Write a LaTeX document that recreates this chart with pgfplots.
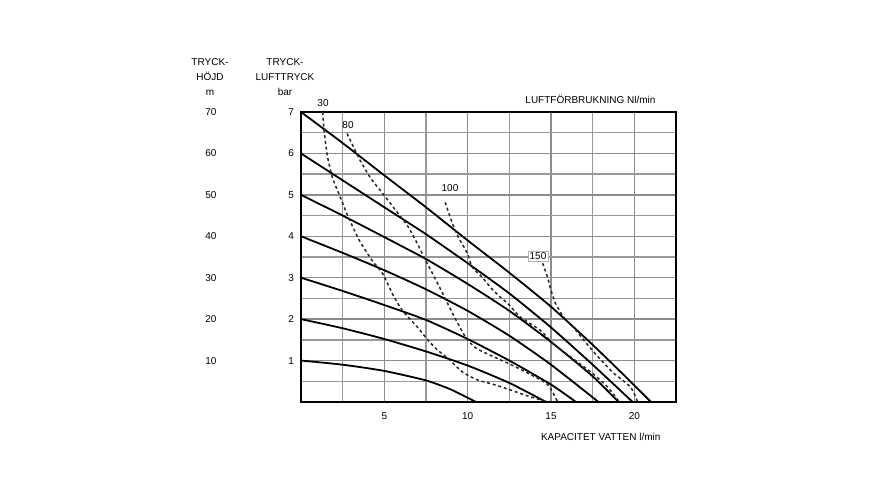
\documentclass[border=0pt]{standalone}
\usepackage{pgfplots}
\pgfplotsset{compat=1.18}
\usepackage{fontspec}
\setmainfont{Liberation Sans}
\begin{document}
\fontsize{10}{12}\selectfont
\begin{tikzpicture}[x=1pt,y=1pt]
\useasboundingbox (0,0) rectangle (870,500);
\begin{axis}[at={(301pt,98pt)}, anchor=south west, scale only axis,
  width=375pt, height=290pt, xmin=0, xmax=22.5, ymin=0, ymax=7,
  xtick={5,10,15,20}, minor xtick={2.5,7.5,12.5,17.5},
  ytick={1,...,7}, minor ytick={0.5,1.5,...,6.5},
  grid=both,
  major grid style={draw=black!45, line width=1.3pt},
  minor grid style={draw=black!40, line width=1.3pt},
  major tick length=0, minor tick length=0,
  axis line style={line width=1.8pt, black},
  tick label style={font=\fontsize{10}{12}\selectfont},
  yticklabel style={xshift=-3.5pt}, xticklabel style={yshift=-7pt},
  clip=false, /pgf/number format/assume math mode=true]
% pressure curves (bar)
\pgfplotsset{pc/.style={black, line width=1.8pt, smooth, tension=0.4},
  ac/.style={black!85, line width=1.5pt, dash pattern=on 3pt off 2.8pt, smooth, tension=0.4}}
\addplot[pc] coordinates {(0,1) (2.5,0.9) (5,0.75) (7.5,0.52) (9,0.3) (10.5,0)};
\addplot[pc] coordinates {(0,2) (2.5,1.78) (5,1.52) (7.5,1.22) (10,0.88) (12.5,0.46) (14.7,0)};
\addplot[pc] coordinates {(0,3) (2.5,2.68) (5,2.34) (7.5,1.98) (10,1.52) (12.5,1.0) (15,0.42) (16.5,0)};
\addplot[pc] coordinates {(0,4) (2.5,3.6) (5,3.18) (7.5,2.72) (10,2.2) (12.5,1.6) (15,0.9) (17.85,0)};
\addplot[pc] coordinates {(0,5) (2.5,4.5) (5,3.98) (7.5,3.45) (10,2.85) (12.5,2.2) (15,1.45) (17.5,0.62) (19.05,0)};
\addplot[pc] coordinates {(0,6) (2.5,5.35) (5,4.7) (7.5,4.05) (10,3.35) (12.5,2.62) (15,1.8) (17.5,0.9) (19.9,0)};
\addplot[pc] coordinates {(0,7) (2.5,6.25) (5,5.47) (7.5,4.7) (10,3.9) (12.5,3.12) (15,2.3) (17.5,1.38) (19.5,0.6) (21,0)};
% air consumption curves (Nl/min)
\addplot[ac] coordinates {(1.3,7.0) (1.4,6.5) (1.6,5.9) (1.9,5.4) (2.3,5.0) (2.8,4.5) (3.5,3.9) (4.3,3.4) (4.9,3.1) (5.5,2.6) (6.1,2.2) (7.0,1.8) (7.6,1.5) (8.2,1.25) (8.8,1.06) (9.7,0.72) (10.6,0.53) (11.5,0.43) (12.5,0.3) (13.5,0.16) (14.4,0.05) (14.9,0)};
\addplot[ac] coordinates {(2.76,6.48) (3.05,6.24) (3.55,5.83) (4.15,5.42) (4.75,5.11) (5.35,4.8) (5.83,4.55) (6.4,4.25) (6.97,3.83) (7.5,3.4) (8.1,2.94) (8.7,2.46) (9.3,1.98) (9.9,1.55) (10.5,1.3) (11.4,1.12) (12.4,0.94) (13.6,0.7) (14.8,0.42) (15.4,0)};
\addplot[ac] coordinates {(8.65,4.82) (8.95,4.46) (9.25,4.14) (9.55,3.9) (9.98,3.59) (10.28,3.25) (10.88,3.01) (11.36,2.77) (11.96,2.53) (12.38,2.39) (13.16,2.05) (14.36,1.73) (15.1,1.42) (16.2,1.08) (17.4,0.72) (18.4,0.36) (19.1,0)};
\addplot[ac] coordinates {(14.5,3.35) (14.8,3.0) (15.0,2.7) (15.25,2.4) (15.75,2.05) (16.35,1.8) (16.95,1.5) (17.8,1.1) (18.75,0.7) (19.77,0.36) (20.2,0)};
\node at (axis cs:1.32,7.22) {30};
\node at (axis cs:2.82,6.69) {80};
\node at (axis cs:8.94,5.17) {100};
\node[fill=white, draw=black!30, inner sep=1.5pt] at (axis cs:14.22,3.52) {150};
\end{axis}
\begin{axis}[at={(301pt,98pt)}, anchor=south west, scale only axis,
  width=375pt, height=290pt, xmin=0, xmax=22.5, ymin=0, ymax=70,
  ytick={10,20,...,70}, xtick=\empty, axis line style={draw=none},
  major tick length=0,
  tick label style={font=\fontsize{10}{12}\selectfont},
  yticklabel style={xshift=-81pt},
  /pgf/number format/assume math mode=true]
\end{axis}
\node[align=center, font=\fontsize{10}{15}\selectfont] at (210,423) {TRYCK-\\HÖJD\\m};
\node[align=center, font=\fontsize{10}{15}\selectfont] at (285,423) {TRYCK-\\LUFTTRYCK\\bar};
\node[anchor=base east] at (659,396) {LUFTFÖRBRUKNING Nl/min};
\node[anchor=base east] at (664,59) {KAPACITET VATTEN l/min};
\end{tikzpicture}
\end{document}
